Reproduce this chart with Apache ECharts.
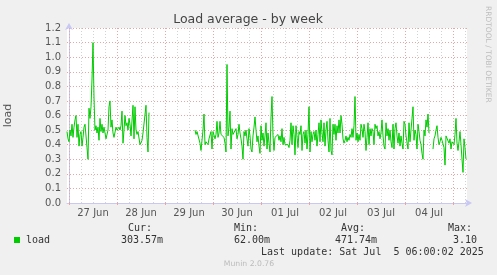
<!DOCTYPE html>
<html><head><meta charset="utf-8">
<script src="https://cdn.jsdelivr.net/npm/echarts@6/dist/echarts.min.js"></script>
<style>html,body{margin:0;padding:0;background:#f0f0f0;}#c{width:497px;height:275px;}</style>
</head><body><div id="c"></div>
<script>
// time axis in hours relative to 27 Jun 00:00, 30-minute samples
const startHour = -1;
const stepHours = 0.5;
const endHour = 199;
const dayLabels = ['27 Jun','28 Jun','29 Jun','30 Jun','01 Jul','02 Jul','03 Jul','04 Jul'];
const yMax = 1.2;
const yStep = 0.1;

// load values (30 min steps), segments separated by gaps with no data
const loadSeg1 = [
0.49,0.44,0.42,0.50,0.46,0.54,0.45,0.52,0.57,0.60,
0.45,0.54,0.39,0.47,0.49,0.39,0.45,0.52,0.54,0.53,
0.38,0.30,0.65,0.58,0.66,0.85,1.10,0.72,0.50,0.53,
0.48,0.52,0.43,0.58,0.49,0.54,0.48,0.52,0.51,0.44,
0.45,0.50,0.66,0.70,0.52,0.57,0.48,0.45,0.44,0.52,
0.50,0.51,0.52,0.50,0.53,0.63,0.41,0.50,0.60,0.53,
0.55,0.50,0.58,0.54,0.46,0.45,0.67,0.44,0.66,0.50,
0.47,0.49,0.48,0.40,0.39,0.43,0.48,0.47,0.49,0.67,
0.45,0.35,0.62];
const gap1Length = 45;
const loadSeg2 = [
0.50,0.47,0.49,0.50,0.49,0.41,0.36,0.37,0.50,0.61,
0.40,0.42,0.43,0.40,0.44,0.43,0.49,0.37,0.49,0.50,
0.44,0.47,0.56,0.45,0.48,0.56,0.47,0.46,0.47,0.45,
0.41,0.35,0.95,0.46,0.52,0.63,0.37,0.51,0.47,0.48,
0.48,0.51,0.44,0.47,0.54,0.48,0.44,0.39,0.30,0.49,
0.46,0.50,0.44,0.39,0.51,0.46,0.37,0.35,0.46,0.52,
0.59,0.50,0.42,0.46,0.39,0.34,0.53,0.43,0.48,0.39,
0.46,0.55,0.37,0.48,0.41,0.35,0.59,0.73,0.46,0.36,
0.45,0.46,0.44,0.47,0.43,0.46,0.42,0.51,0.40,0.45,
0.40,0.41,0.39,0.40,0.38,0.43,0.55,0.40,0.53,0.47,
0.33,0.53,0.54,0.38,0.49,0.47,0.53,0.36,0.47,0.49,
0.41,0.50,0.37,0.47,0.66,0.35,0.49,0.42,0.47,0.49,
0.43,0.50,0.39,0.47,0.55,0.42,0.57,0.48,0.42,0.55,
0.39,0.50,0.56,0.43,0.35,0.58,0.36,0.33,0.54,0.47,
0.54,0.43,0.53,0.48,0.57,0.48,0.60,0.54,0.44,0.41,
0.43,0.46,0.42,0.45,0.43,0.47,0.45,0.51,0.45,0.53,
0.73,0.43,0.48,0.42,0.47,0.43,0.54,0.51,0.45,0.54,
0.49,0.36,0.45,0.55,0.40,0.51,0.46,0.51,0.49,0.40,
0.54,0.51,0.53,0.46,0.49,0.44,0.48,0.57,0.46,0.39,
0.37,0.55,0.46,0.51,0.43,0.50,0.42,0.38,0.54,0.37,
0.51,0.55,0.46,0.41,0.48,0.39,0.46,0.41,0.37,0.56,
0.54,0.46,0.45,0.37,0.55,0.42,0.50,0.58,0.66,0.43,
0.50,0.47,0.37,0.54,0.49,0.43,0.40,0.34,0.30,0.50,
0.46,0.57,0.52,0.61,0.48];
const gap2Length = 3;
const loadSeg3 = [
0.37,0.44,0.46,0.50,0.53,0.45,0.40,0.42,0.45,0.43,
0.44,0.38,0.26,0.46,0.45,0.45,0.41,0.44,0.37,0.42,
0.41,0.40,0.47,0.58,0.41,0.36,0.42,0.49,0.40,0.30,
0.21,0.44,0.38,0.30];

const legendName = 'load';
const legendCur = '303.57m', legendMin = '62.00m', legendAvg = '471.74m', legendMax = '3.10';
const lastUpdate = 'Last update: Sat Jul  5 06:00:02 2025';

const load = [].concat(loadSeg1, new Array(gap1Length).fill(null), loadSeg2, new Array(gap2Length).fill(null), loadSeg3);
const seriesData = load.map((v, i) => [startHour + i * stepHours, v]);

const dayStarts = dayLabels.map((d, i) => i * 24).concat([dayLabels.length * 24]);
const labelHours = dayLabels.map((d, i) => 12 + i * 24);
const gridLines = [];
for (let h = 0; h < endHour; h += 6) {
  const major = h % 24 === 0;
  gridLines.push({xAxis: h, lineStyle: {color: major ? '#e6a6a6' : '#d2d2d2', type: [1, 2], width: 1}});
}

const mono = '"DejaVu Sans Mono", monospace';
const sans = '"DejaVu Sans", sans-serif';
const txt = (x, y, text, opts) => Object.assign({
  type: 'text', x: x, y: y,
  style: Object.assign({text: text, font: '10px ' + mono, fill: '#333', textAlign: 'left', align: 'left', textVerticalAlign: 'middle', verticalAlign: 'middle'}, opts || {})
});

const chart = echarts.init(document.getElementById('c'), null, {renderer: 'canvas'});
chart.setOption({
  animation: false,
  backgroundColor: '#f0f0f0',
  grid: {left: 67, right: 30, top: 28, bottom: 72, show: true, backgroundColor: '#ffffff', borderWidth: 0, containLabel: false, outerBoundsMode: 'none'},
  xAxis: {
    type: 'value', min: startHour, max: endHour,
    axisLine: {show: true, lineStyle: {color: '#c8c8f4', width: 1}, symbol: ['none', 'arrow'], symbolSize: [6, 7], symbolOffset: [0, 5]},
    axisTick: {show: true, customValues: dayStarts, length: 2, lineStyle: {color: '#e6a6a6'}},
    axisLabel: {customValues: labelHours, formatter: v => dayLabels[Math.round((v - 12) / 24)], color: '#555', fontFamily: sans, fontSize: 10, margin: 5},
    splitLine: {show: false}
  },
  yAxis: {
    type: 'value', min: 0, max: yMax, interval: yStep,
    name: 'load', nameLocation: 'middle', nameRotate: 90, nameGap: 53,
    nameTextStyle: {color: '#555', fontFamily: sans, fontSize: 11},
    axisLine: {show: true, lineStyle: {color: '#c8c8f4', width: 1}, symbol: ['none', 'arrow'], symbolSize: [6, 7], symbolOffset: [0, 5]},
    axisTick: {show: false},
    axisLabel: {formatter: v => v.toFixed(1), color: '#555', fontFamily: sans, fontSize: 10, margin: 6},
    splitLine: {show: true, lineStyle: {color: '#e6a6a6', type: [1, 2], width: 1}}
  },
  series: [
    {type: 'line', data: [], silent: true, markLine: {silent: true, symbol: ['none', 'none'], z: 1, label: {show: false}, data: gridLines}},
    {type: 'line', name: 'load', z: 3, data: seriesData, showSymbol: false, connectNulls: false, lineStyle: {color: '#00cc00', width: 1}, itemStyle: {color: '#00cc00'}}
  ],
  graphic: [
    txt(248, 20, 'Load average - by week', {font: '12.5px ' + sans, fill: '#444', textAlign: 'center', align: 'center'}),
    {type: 'text', x: 484, y: 6, rotation: -Math.PI / 2, style: {text: 'RRDTOOL / TOBI OETIKER', font: '7.5px ' + sans, fill: '#bdbdbd', textAlign: 'left', align: 'left', textVerticalAlign: 'bottom', verticalAlign: 'bottom'}},
    {type: 'rect', shape: {x: 14, y: 237, width: 6, height: 6}, style: {fill: '#00cc00'}},
    txt(26, 240, legendName),
    txt(128, 228.5, 'Cur:'),
    txt(121, 240, legendCur),
    txt(234, 228.5, 'Min:'),
    txt(234, 240, legendMin),
    txt(341, 228.5, 'Avg:'),
    txt(335, 240, legendAvg),
    txt(448, 228.5, 'Max:'),
    txt(453, 240, legendMax),
    txt(261, 252, lastUpdate),
    txt(249, 264.5, 'Munin 2.0.76', {font: '7.7px ' + sans, fill: '#bbb', textAlign: 'center', align: 'center'})
  ]
});
</script>
</body></html>
